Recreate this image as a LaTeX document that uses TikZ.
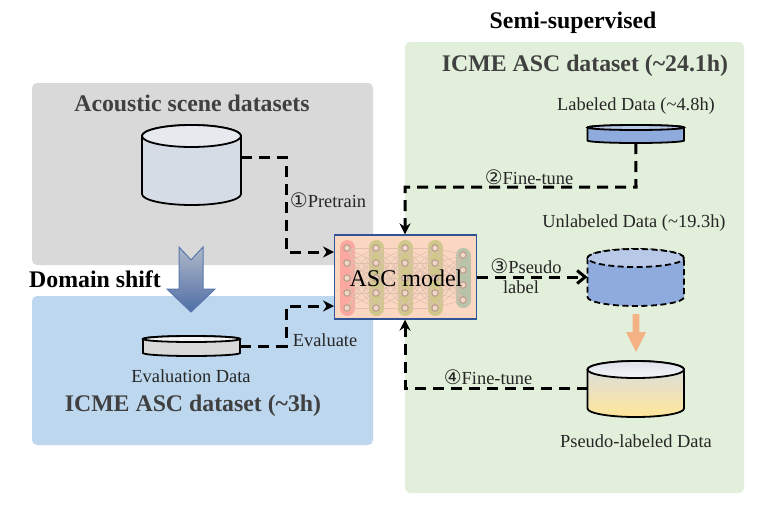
\documentclass[tikz,border=0pt]{standalone}
\usepackage{fontspec}
\setmainfont{Liberation Serif}
\newfontfamily\circfont{DejaVu Sans}
\usetikzlibrary{arrows.meta}
\definecolor{panelgrey}{HTML}{D9D9D9}
\definecolor{panelblue}{HTML}{BDD7EE}
\definecolor{panelgreen}{HTML}{E2EFDA}
\definecolor{headtext}{HTML}{404040}
\definecolor{cylblue}{HTML}{8FAADC}
\definecolor{cyllight}{HTML}{B8C9E8}
\definecolor{cylpale}{HTML}{D6DCE5}
\definecolor{modelfill}{HTML}{FBD7C2}
\definecolor{modeledge}{HTML}{2F5597}
\definecolor{capred}{HTML}{FBA9A0}
\definecolor{capolive}{HTML}{CFC88A}
\definecolor{capgreen}{HTML}{B9C3A9}
\definecolor{softorange}{HTML}{F4B183}
\definecolor{dotedge}{HTML}{BFA08F}
\definecolor{dotfill}{HTML}{EFD8C8}
\definecolor{linkcol}{HTML}{DDC0AE}
\definecolor{paleyellow}{HTML}{FFE699}
\definecolor{midbeige}{HTML}{E8DDD4}
\definecolor{arrowtop}{HTML}{B0B8C8}
\tikzset{
  panel/.style={rounded corners=5pt,draw=none},
  heading/.style={font=\bfseries\fontsize{23.8}{26}\selectfont,text=headtext,inner sep=0pt},
  blackhead/.style={font=\bfseries\fontsize{23.8}{26}\selectfont,text=black,inner sep=0pt},
  smalltext/.style={font=\fontsize{18.4}{20}\selectfont,text=black!85,inner sep=0pt},
  flowline/.style={draw=black,line width=3pt,dash pattern=on 11pt off 7pt,-{Stealth[length=11pt,width=11pt]}},
  cylbox/.style={inner sep=0pt,outer sep=0pt,draw=none},
  cyledge/.style={draw=black,line width=1.8pt},
  netlink/.style={draw=linkcol,line width=0.6pt},
  netdot/.style={circle,inner sep=0pt,minimum size=6.5pt,draw=dotedge,line width=1.2pt,fill=dotfill},
}
% name, left, right, top, ellipse bottom, bottom, edge style, body style, lid style
\newcommand\dbcyl[9]{%
  \pgfmathsetmacro\cx{(#2+#3)/2}\pgfmathsetmacro\cy{(#4+#6)/2}%
  \pgfmathsetmacro\cw{#3-#2}\pgfmathsetmacro\ch{#6-#4}%
  \pgfmathsetmacro\rx{(#3-#2)/2}\pgfmathsetmacro\ry{(#5-#4)/2}%
  \node[cylbox,minimum width=\cw pt,minimum height=\ch pt] (#1) at (\cx,\cy) {};
  \path[#7,#8] (#2,#4+\ry) -- (#2,#6-\ry) arc[start angle=180,end angle=360,x radius=\rx pt,y radius=\ry pt] -- (#3,#4+\ry) arc[start angle=0,end angle=180,x radius=\rx pt,y radius=\ry pt] -- cycle;
  \path[#7,#9] (\cx,#4+\ry) ellipse[x radius=\rx pt,y radius=\ry pt];
}
\newcommand\circd[1]{{\circfont\fontsize{20}{20}\selectfont #1}}
\begin{document}
\begin{tikzpicture}[x=1pt,y=-1pt]
\useasboundingbox (0,0) rectangle (778,517);
\fill[white] (0,0) rectangle (778,517);
% panels
\path[panel,fill=panelgrey] (32,83) rectangle (373,265);
\path[panel,fill=panelblue] (32,296) rectangle (373,445);
\path[panel,fill=panelgreen] (405,42) rectangle (744,493);
% panel titles
\node[blackhead] (semi) at (573,23) {Semi-supervised};
\node[heading] (icmebig) at (585,66) {ICME ASC dataset (\textasciitilde24.1h)};
\node[heading] (acoustic) at (192,103) {Acoustic scene datasets};
\node[blackhead] (domain) at (95,279) {Domain shift};
\node[heading] (icmesmall) at (193,406) {ICME ASC dataset (\textasciitilde3h)};
% cylinders
\dbcyl{big}{142}{241}{125}{147}{205}{cyledge}{fill=cylpale}{fill=cylpale!60!white}
\dbcyl{evalcyl}{143}{240}{336}{342}{356}{cyledge}{fill=panelgrey}{fill=white!70!panelgrey}
\dbcyl{labeled}{587.5}{684}{125}{130}{143}{cyledge}{fill=cylblue}{fill=cyllight}
\dbcyl{unlabeled}{587.5}{684}{249}{267}{306}{cyledge,dash pattern=on 6pt off 3.5pt}{fill=cylblue}{fill=cyllight}
\dbcyl{pseudo}{587.5}{684}{361}{378}{417}{cyledge}{shading=axis,top color=cylpale,middle color=midbeige,bottom color=paleyellow}{shading=axis,top color=cylpale!80!white,bottom color=cylpale!30!white}
% data labels
\node[smalltext] (evaltext) at (191,376) {Evaluation Data};
\node[smalltext] (labeledtext) at (636,106) {Labeled Data (\textasciitilde4.8h)};
\node[smalltext] (unlabeledtext) at (634,223) {Unlabeled Data (\textasciitilde19.3h)};
\node[smalltext] (pseudotext) at (636,441) {Pseudo-labeled Data};
% big block arrows
\path[draw=modeledge!80!white,line width=1pt,shading=axis,top color=arrowtop,bottom color=modeledge!85!white]
  (179,247) -- (191,260) -- (203,247) -- (203,289) -- (215,289) -- (191,312) -- (167,289) -- (179,289) -- cycle;
\fill[softorange] (632.7,314) -- (639.3,314) -- (639.3,332) -- (646,332) -- (636,352) -- (626,332) -- (632.7,332) -- cycle;
% model
\node[draw=modeledge,line width=1.2pt,fill=modelfill,inner sep=0pt,minimum width=142pt,minimum height=84pt] (model) at (405.6,277) {};
\foreach \cxx/\ctop/\cbot/\ccol in {347/240/316/capred,376/240/316/capolive,405/240/316/capolive,435/240/316/capolive,463/248/308/capgreen}
  \draw[line width=15pt,line cap=round,\ccol] (\cxx,\ctop+7.5) -- (\cxx,\cbot-7.5);
\foreach \ax/\bx in {347/376,376/405,405/435}
  \foreach \ay in {248,263,278,293,308}
    \foreach \by in {248,263,278,293,308}
      \draw[netlink] (\ax,\ay) -- (\bx,\by);
\foreach \ay in {248,263,278,293,308}
  \foreach \by in {255,270,285,300}
    \draw[netlink] (435,\ay) -- (463,\by);
\foreach \cxx in {347,376,405,435}
  \foreach \ay in {248,263,278,293,308}
    \node[netdot] at (\cxx,\ay) {};
\foreach \ay in {255,270,285,300}
  \node[netdot] at (463,\ay) {};
\node[inner sep=0pt,font=\fontsize{24}{28}\selectfont,text=black] (modeltext) at (406,278) {ASC model};
% bend coordinates
\coordinate (b1a) at (286,157);
\coordinate (b1b) at (286,252);
\coordinate (b2a) at (286,346);
\coordinate (b2b) at (286,306);
\coordinate (b3a) at (636,187);
\coordinate (b3b) at (405,187);
\coordinate (b4a) at (405,388);
% connectors
\draw[flowline] ([yshift=8pt]big.east) -- (b1a) -- (b1b) -- (model.west |- b1b);
\draw[flowline] (evalcyl.east) -- (b2a) -- (b2b) -- (model.west |- b2b);
\draw[flowline] (labeled.south) -- (b3a) -- (b3b) -- (b3b |- model.north);
\draw[flowline] (pseudo.west |- b4a) -- (b4a) -- (b4a |- model.south);
\draw[flowline,-{Straight Barb[length=8pt,width=13pt]}] (model.east) -- (unlabeled.west |- model.east);
% connector labels
\node[smalltext] (l1) at (328,200) {\circd{①}Pretrain};
\node[smalltext] (l2) at (529,177) {\circd{②}Fine-tune};
\node[smalltext] (l3) at (526,266) {\circd{③}Pseudo};
\node[smalltext] (l3b) at (521,287) {label};
\node[smalltext] (l4) at (325,340) {Evaluate};
\node[smalltext] (l5) at (488,377) {\circd{④}Fine-tune};
\end{tikzpicture}
\end{document}
